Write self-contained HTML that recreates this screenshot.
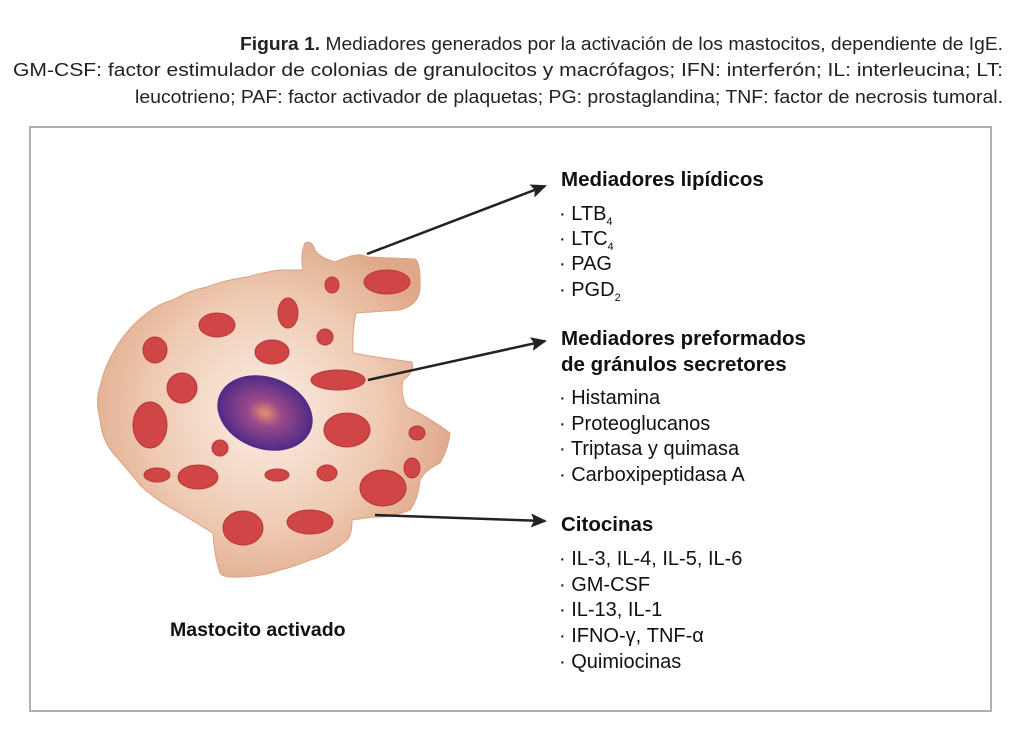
<!DOCTYPE html>
<html><head><meta charset="utf-8"><style>
html,body{margin:0;padding:0;background:#fff;}
svg{display:block;font-family:"Liberation Sans",sans-serif;}
</style></head><body>
<svg width="1024" height="746" viewBox="0 0 1024 746" xmlns="http://www.w3.org/2000/svg">
<defs>
<radialGradient id="cg" cx="265" cy="413" r="190" gradientUnits="userSpaceOnUse">
<stop offset="0" stop-color="#fbeee6"/><stop offset="0.6" stop-color="#efcbb3"/><stop offset="1" stop-color="#dfa889"/>
</radialGradient>
<radialGradient id="ng" cx="0.5" cy="0.5" r="0.5">
<stop offset="0" stop-color="#e98e6e"/><stop offset="0.35" stop-color="#9a4a8a"/><stop offset="1" stop-color="#4f2a86"/>
</radialGradient>
<marker id="ah" markerWidth="16" markerHeight="14" refX="14" refY="7" orient="auto" markerUnits="userSpaceOnUse">
<path d="M0,0 L16,7 L0,14 L3,7 Z" fill="#222"/></marker>
</defs>
<g font-size="18.5" fill="#222" text-anchor="end">
<text x="1003" y="50" textLength="763" lengthAdjust="spacingAndGlyphs"><tspan font-weight="bold">Figura 1.</tspan> Mediadores generados por la activación de los mastocitos, dependiente de IgE.</text>
<text x="1003" y="76" textLength="990" lengthAdjust="spacingAndGlyphs">GM-CSF: factor estimulador de colonias de granulocitos y macrófagos; IFN: interferón; IL: interleucina; LT:</text>
<text x="1003" y="103" textLength="868" lengthAdjust="spacingAndGlyphs">leucotrieno; PAF: factor activador de plaquetas; PG: prostaglandina; TNF: factor de necrosis tumoral.</text>
</g>
<rect x="30" y="127" width="961" height="584" fill="none" stroke="#b0b0b0" stroke-width="2"/>
<path d="M305,243 Q312,240 315,250 Q320,258 335,262 L345,258 Q360,252 367,257 L415,259 Q421,262 420,290 Q418,305 400,310 L356,313 Q352,330 353,353 Q380,358 412,362 Q415,372 403,380 Q400,395 407,407 Q430,418 450,433 Q448,450 440,463 Q425,470 420,480 Q418,500 410,510 Q390,518 373,517 L352,520 Q352,535 347,540 Q330,555 310,560 Q290,568 280,570 Q260,577 240,577 Q222,578 220,573 Q214,555 213,533 Q195,522 180,513 Q155,500 140,485 Q128,470 113,453 Q102,440 100,420 Q95,400 100,387 Q104,368 113,353 Q125,330 147,313 Q160,303 173,300 Q190,290 207,287 Q225,280 247,277 Q265,272 280,270 L303,270 Q300,255 305,243 Z" fill="url(#cg)" stroke="#d9a385" stroke-width="1"/>
<g fill="#d04545" stroke="#b83838" stroke-width="1">
<ellipse cx="387" cy="282" rx="23" ry="12"/>
<ellipse cx="332" cy="285" rx="7" ry="8"/>
<ellipse cx="288" cy="313" rx="10" ry="15"/>
<ellipse cx="217" cy="325" rx="18" ry="12"/>
<ellipse cx="325" cy="337" rx="8" ry="8"/>
<ellipse cx="272" cy="352" rx="17" ry="12"/>
<ellipse cx="155" cy="350" rx="12" ry="13"/>
<ellipse cx="338" cy="380" rx="27" ry="10"/>
<ellipse cx="182" cy="388" rx="15" ry="15"/>
<ellipse cx="150" cy="425" rx="17" ry="23"/>
<ellipse cx="347" cy="430" rx="23" ry="17"/>
<ellipse cx="417" cy="433" rx="8" ry="7"/>
<ellipse cx="220" cy="448" rx="8" ry="8"/>
<ellipse cx="157" cy="475" rx="13" ry="7"/>
<ellipse cx="198" cy="477" rx="20" ry="12"/>
<ellipse cx="277" cy="475" rx="12" ry="6"/>
<ellipse cx="327" cy="473" rx="10" ry="8"/>
<ellipse cx="412" cy="468" rx="8" ry="10"/>
<ellipse cx="383" cy="488" rx="23" ry="18"/>
<ellipse cx="243" cy="528" rx="20" ry="17"/>
<ellipse cx="310" cy="522" rx="23" ry="12"/>
</g>
<ellipse cx="265" cy="413" rx="49" ry="36" transform="rotate(20 265 413)" fill="url(#ng)"/>
<g stroke="#222" stroke-width="2.5" marker-end="url(#ah)">
<line x1="367" y1="254" x2="545" y2="186"/>
<line x1="368" y1="380" x2="545" y2="341"/>
<line x1="375" y1="515" x2="545" y2="521"/>
</g>
<g fill="#111" font-size="20.5" font-weight="bold">
<text x="561" y="186">Mediadores lipídicos</text>
<text x="561" y="345">Mediadores preformados</text>
<text x="561" y="371">de gránulos secretores</text>
<text x="561" y="531">Citocinas</text>
<text x="170" y="636" font-size="19.5">Mastocito activado</text>
</g>
<g fill="#111" font-size="20">
<text x="559" y="220">· LTB<tspan font-size="11" dy="5">4</tspan></text>
<text x="559" y="245">· LTC<tspan font-size="11" dy="5">4</tspan></text>
<text x="559" y="270">· PAG</text>
<text x="559" y="296">· PGD<tspan font-size="11" dy="5">2</tspan></text>
<text x="559" y="404">· Histamina</text>
<text x="559" y="430">· Proteoglucanos</text>
<text x="559" y="455">· Triptasa y quimasa</text>
<text x="559" y="481">· Carboxipeptidasa A</text>
<text x="559" y="565">· IL-3, IL-4, IL-5, IL-6</text>
<text x="559" y="591">· GM-CSF</text>
<text x="559" y="616">· IL-13, IL-1</text>
<text x="559" y="642">· IFNO-γ, TNF-α</text>
<text x="559" y="668">· Quimiocinas</text>
</g>
</svg>
</body></html>
